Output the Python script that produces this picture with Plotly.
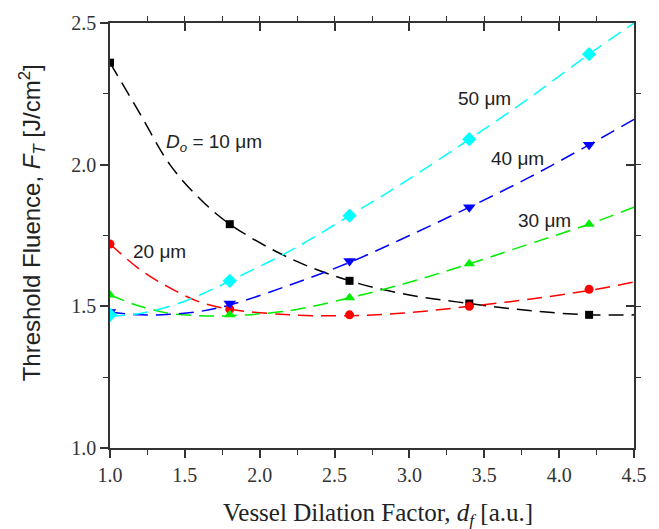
import plotly.graph_objects as go

# Measured points
pts_x = [1.0, 1.8, 2.6, 3.4, 4.2]
d10_pts = [2.36, 1.79, 1.59, 1.51, 1.47]
d20_pts = [1.72, 1.49, 1.47, 1.50, 1.56]
d30_pts = [1.54, 1.47, 1.53, 1.65, 1.79]
d40_pts = [1.48, 1.51, 1.66, 1.85, 2.07]
d50_pts = [1.47, 1.59, 1.82, 2.09, 2.39]

# Fitted (dashed) curves
curve_x = [1.0, 1.2, 1.4, 1.6, 1.8, 2.2, 2.6, 3.0, 3.4, 3.8, 4.2, 4.5]
d10_fit = [2.36, 2.18, 2.00, 1.88, 1.79, 1.67, 1.59, 1.54, 1.51, 1.485, 1.47, 1.47]
d20_fit = [1.72, 1.63, 1.565, 1.515, 1.49, 1.47, 1.467, 1.478, 1.50, 1.525, 1.556, 1.586]
d30_fit = [1.54, 1.50, 1.475, 1.467, 1.467, 1.485, 1.53, 1.585, 1.65, 1.72, 1.79, 1.85]
d40_fit = [1.48, 1.47, 1.472, 1.482, 1.505, 1.575, 1.655, 1.75, 1.85, 1.955, 2.07, 2.16]
d50_fit = [1.465, 1.475, 1.50, 1.54, 1.59, 1.695, 1.82, 1.95, 2.09, 2.235, 2.39, 2.50]

series = [
    ("10", d10_pts, d10_fit, "#000000", "square", 8),
    ("20", d20_pts, d20_fit, "#ff0000", "circle", 9),
    ("30", d30_pts, d30_fit, "#00ee00", "triangle-up", 10),
    ("40", d40_pts, d40_fit, "#0000ff", "triangle-down", 11),
    ("50", d50_pts, d50_fit, "#00ffff", "diamond", 11),
]

fig = go.Figure()
for name, pts, fit, col, sym, sz in series:
    fig.add_trace(go.Scatter(x=curve_x, y=fit, mode="lines", line_shape="spline",
                             line=dict(color=col, width=1.5, dash="15px,8px"),
                             showlegend=False, hoverinfo="skip"))
for name, pts, fit, col, sym, sz in series:
    fig.add_trace(go.Scatter(x=pts_x, y=pts, mode="markers",
                             marker=dict(color=col, symbol=sym, size=sz, line=dict(width=0)),
                             showlegend=False, name=name + " μm"))

# dummy trace for the mirrored top/right axes
fig.add_trace(go.Scatter(x=[1.0], y=[1.0], xaxis="x2", yaxis="y2", mode="markers",
                         marker=dict(opacity=0), showlegend=False, hoverinfo="skip"))

tickfont = dict(family="Liberation Serif", size=20, color="#333333")
common = dict(showgrid=False, zeroline=False, showline=True, linecolor="#333333",
              linewidth=1.5, tickcolor="#333333", tickwidth=1.5, ticklen=8,
              dtick=0.5, minor=dict(dtick=0.25, ticklen=5, tickwidth=1.2, tickcolor="#333333"))

fig.update_layout(
    width=659, height=529,
    margin=dict(l=110, r=23, t=21, b=81),
    plot_bgcolor="white", paper_bgcolor="white",
    xaxis=dict(range=[1.0, 4.5], ticks="outside", tickformat=".1f", tickfont=tickfont, **common),
    yaxis=dict(range=[1.0, 2.5], ticks="outside", tickformat=".1f", tickfont=tickfont, **common),
    xaxis2=dict(range=[1.0, 4.5], overlaying="x", side="top", ticks="inside",
                showticklabels=False, **common),
    yaxis2=dict(range=[1.0, 2.5], overlaying="y", side="right", ticks="inside",
                showticklabels=False, **common),
)

labfont = dict(family="Liberation Sans", size=19, color="#222222")
labels = [
    (1.36, 2.075, "<i>D</i><sub><i>o</i></sub> = 10 μm"),
    (1.14, 1.695, "20 μm"),
    (3.71, 1.804, "30 μm"),
    (3.53, 2.022, "40 μm"),
    (3.31, 2.233, "50 μm"),
]
for x, y, t in labels:
    fig.add_annotation(x=x, y=y, text=t, showarrow=False, xanchor="left", yanchor="middle",
                       font=labfont)

fig.add_annotation(xref="paper", yref="paper", x=(32 - 110) / 526, y=(448 - 222) / 427,
                   text="Threshold Fluence, <i>F</i><sub><i>T</i></sub> [J/cm<sup>2</sup>]",
                   textangle=-90, showarrow=False, xanchor="center", yanchor="middle",
                   font=dict(family="Liberation Sans", size=24, color="#222222"))
fig.add_annotation(xref="paper", yref="paper", x=(379 - 110) / 526, y=-(515 - 448) / 427,
                   text="Vessel Dilation Factor, <i>d</i><sub><i>f</i></sub> [a.u.]",
                   showarrow=False, xanchor="center", yanchor="middle",
                   font=dict(family="Liberation Serif", size=25, color="#222222"))

fig.write_html("out.html")
